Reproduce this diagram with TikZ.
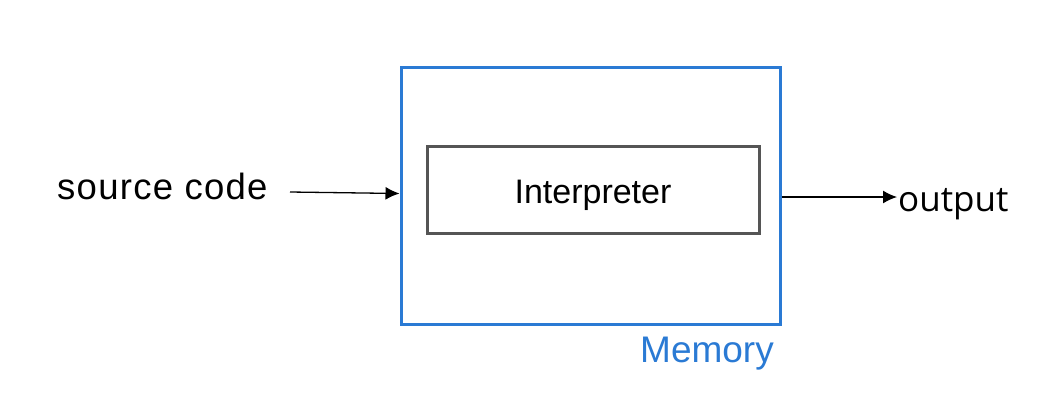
\documentclass[tikz,border=0pt]{standalone}
\usepackage{fontspec}
\setmainfont{Liberation Sans}
\newfontfamily\outfont{Open Sans}
\usetikzlibrary{arrows.meta}
\definecolor{memblue}{RGB}{42,122,212}
\definecolor{boxgray}{RGB}{85,85,85}
\begin{document}
\begin{tikzpicture}[x=1pt,y=-1pt,
  lbl/.style={inner sep=0pt, anchor=base west},
  arr/.style={line width=1.3pt, -{Latex[length=14pt,width=13pt]}}]
\useasboundingbox (0,0) rectangle (1042,408);
\node[draw=memblue, line width=3pt, minimum width=379pt, minimum height=257pt, inner sep=0pt] (mem) at (590.5,195.5) {};
\node[draw=boxgray, line width=3pt, minimum width=332pt, minimum height=87pt, inner sep=0pt] (interp) at (593,189.5) {\raisebox{-13.5pt}[0pt][0pt]{\fontsize{34}{40}\selectfont Interpreter}};
\node[lbl] (src) at (57,199) {\fontsize{36.5}{40}\selectfont\addfontfeatures{LetterSpace=3.5}source code};
\node[lbl] (out) at (898,211) {\outfont\fontsize{35}{40}\selectfont output};
\node[lbl, text=memblue] (memlbl) at (640,362) {\fontsize{37}{40}\selectfont Memory};
\coordinate (srcend) at (290,192);
\coordinate (outend) at (897,197);
\draw[arr] (srcend) -- ([yshift=2pt]mem.west);
\draw[arr] ([yshift=-1.5pt]mem.east) -- (outend);
\end{tikzpicture}
\end{document}
